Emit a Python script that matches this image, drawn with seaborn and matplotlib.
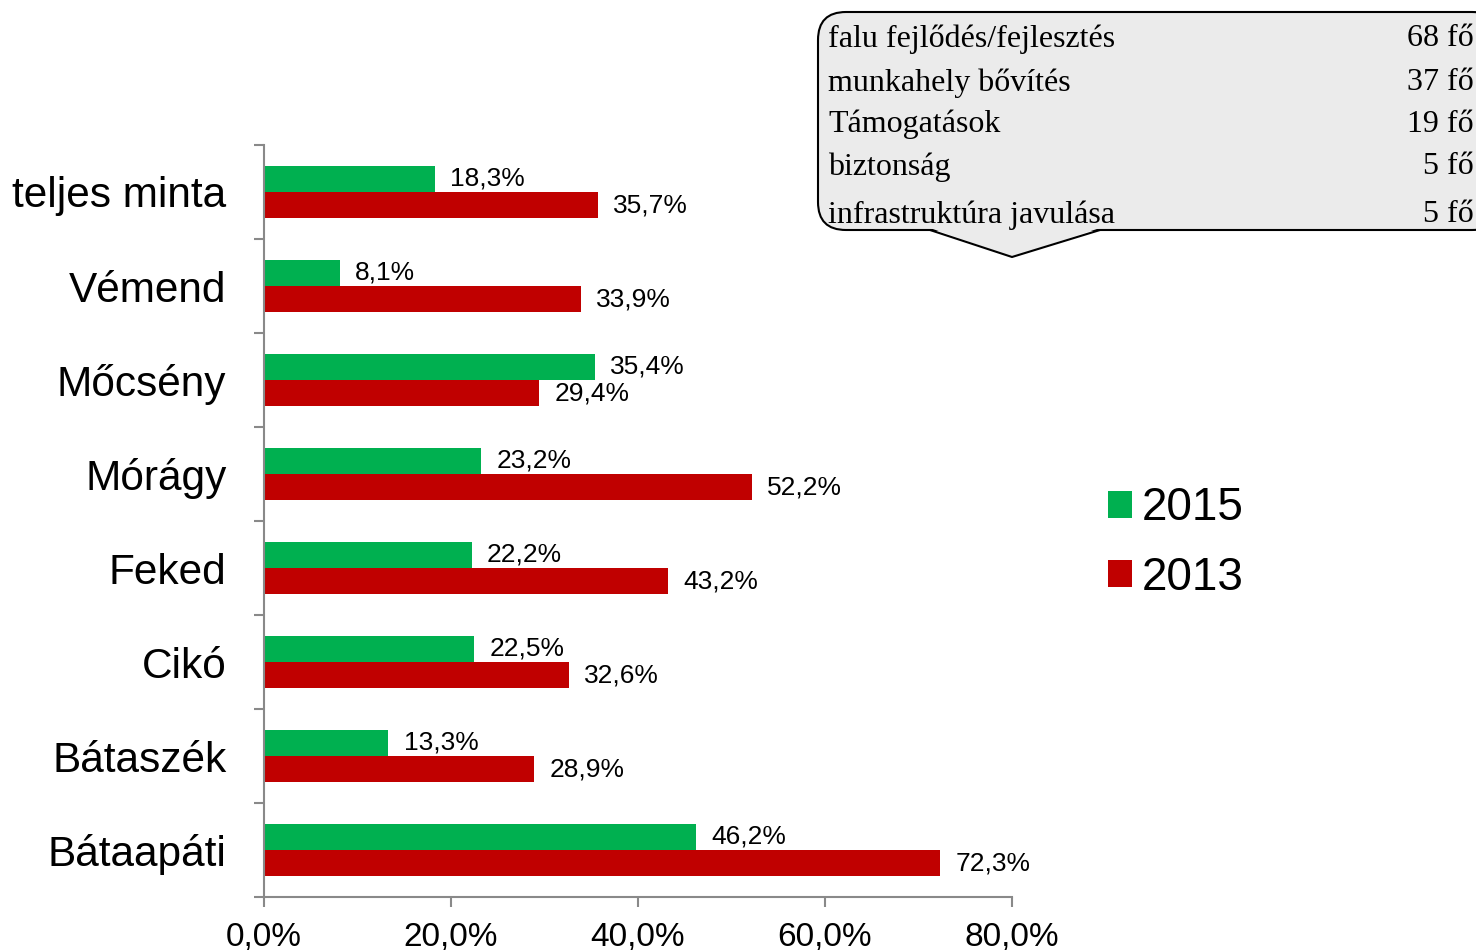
import numpy as np
import pandas as pd
import seaborn as sns
import matplotlib
matplotlib.use("Agg")
import matplotlib.pyplot as plt
from matplotlib.patches import FancyBboxPatch, Polygon
from matplotlib.lines import Line2D
from matplotlib.transforms import IdentityTransform

# ---- data ----
categories = ["teljes minta", "Vémend", "Mőcsény", "Mórágy", "Feked", "Cikó", "Bátaszék", "Bátaapáti"]
years = ["2015", "2013"]
values_2015 = [18.3, 8.1, 35.4, 23.2, 22.2, 22.5, 13.3, 46.2]
values_2013 = [35.7, 33.9, 29.4, 52.2, 43.2, 32.6, 28.9, 72.3]
x_ticks = [0, 20, 40, 60, 80]
callout_items = ["falu fejlődés/fejlesztés", "munkahely bővítés", "Támogatások",
                 "biztonság", "infrastruktúra javulása"]
callout_counts = ["68 fő", "37 fő", "19 fő", "5 fő", "5 fő"]

colors = {"2015": "#00B050", "2013": "#C00000"}
gray = "#898989"

sns.set_theme(style="white")
plt.rcParams["font.family"] = ["Liberation Sans", "DejaVu Sans"]
plt.rcParams["text.color"] = "black"
plt.rcParams["xtick.labelcolor"] = "black"
plt.rcParams["ytick.labelcolor"] = "black"

df = pd.DataFrame({
    "category": categories * 2,
    "year": ["2015"] * len(categories) + ["2013"] * len(categories),
    "value": values_2015 + values_2013,
})

W, H = 1476, 950
fig = plt.figure(figsize=(W / 100, H / 100), dpi=100)
ax = fig.add_axes([264 / W, 1 - 897 / H, (1012 - 264) / W, (897 - 145) / H])

sns.barplot(data=df, y="category", x="value", hue="year", hue_order=years,
            order=categories, palette=colors, width=0.56, orient="h",
            saturation=1, ax=ax, linewidth=0)

def fmt(v):
    return f"{v:.1f}".replace(".", ",") + "%"

for cont, vals in zip(ax.containers, [values_2015, values_2013]):
    ax.bar_label(cont, labels=[fmt(v) for v in vals], padding=11,
                 fontsize=19, color="black")

ax.set_xlim(0, 80)
ax.set_ylim(len(categories) - 0.5, -0.5)
ax.set_xticks(x_ticks)
ax.set_xticklabels([fmt(t) for t in x_ticks])
ax.set_yticks(range(len(categories)))
ax.set_yticklabels(categories)
ax.set_yticks(np.arange(-0.5, len(categories), 1), minor=True)
ax.set_xlabel("")
ax.set_ylabel("")

ax.tick_params(axis="y", which="major", length=0, pad=27, labelsize=30.5)
ax.tick_params(axis="y", which="minor", length=7.5, width=1.5, color=gray, left=True)
ax.tick_params(axis="x", which="major", length=7.5, width=1.5, color=gray,
               bottom=True, labelsize=24, pad=10)
for s in ["top", "right"]:
    ax.spines[s].set_visible(False)
for s in ["left", "bottom"]:
    ax.spines[s].set_color(gray)
    ax.spines[s].set_linewidth(1.5)

handles, labels = ax.get_legend_handles_labels()
ax.legend(handles, labels, loc="center left", bbox_to_anchor=(1108 / W, 1 - 543 / H),
          bbox_transform=fig.transFigure, frameon=False, fontsize=33,
          handlelength=0.52, handleheight=0.52, handletextpad=0.22,
          labelspacing=0.55, borderpad=0, borderaxespad=0)

# ---- callout ----
box_l, box_t, box_b, box_r = 818, 12, 230, 1500
box = FancyBboxPatch((box_l, H - box_b), box_r - box_l, box_b - box_t,
                     boxstyle="round,pad=0,rounding_size=28",
                     transform=IdentityTransform(), facecolor="#EBEBEB",
                     edgecolor="black", linewidth=1.5, zorder=1)
fig.add_artist(box)
ptr = [(930, H - box_b), (1012, H - 257), (1100, H - box_b)]
fig.add_artist(Polygon([(930, H - box_b + 2), (1012, H - 257), (1100, H - box_b + 2)],
                       closed=True, transform=IdentityTransform(),
                       facecolor="#EBEBEB", edgecolor="none", zorder=2))
fig.add_artist(Line2D([p[0] for p in ptr], [p[1] for p in ptr],
                      transform=IdentityTransform(), color="black", lw=1.5, zorder=3))

row_y = [39, 83, 124, 167, 215]
for yy, item, cnt in zip(row_y, callout_items, callout_counts):
    fig.text(828 / W, 1 - yy / H, item, family=["Liberation Serif", "DejaVu Serif"],
             fontsize=23, ha="left", va="center", zorder=4, color="black")
    fig.text(1474 / W, 1 - yy / H, cnt, family=["Liberation Serif", "DejaVu Serif"],
             fontsize=23, ha="right", va="center", zorder=4, color="black")

fig.savefig("out.png", dpi=100)
